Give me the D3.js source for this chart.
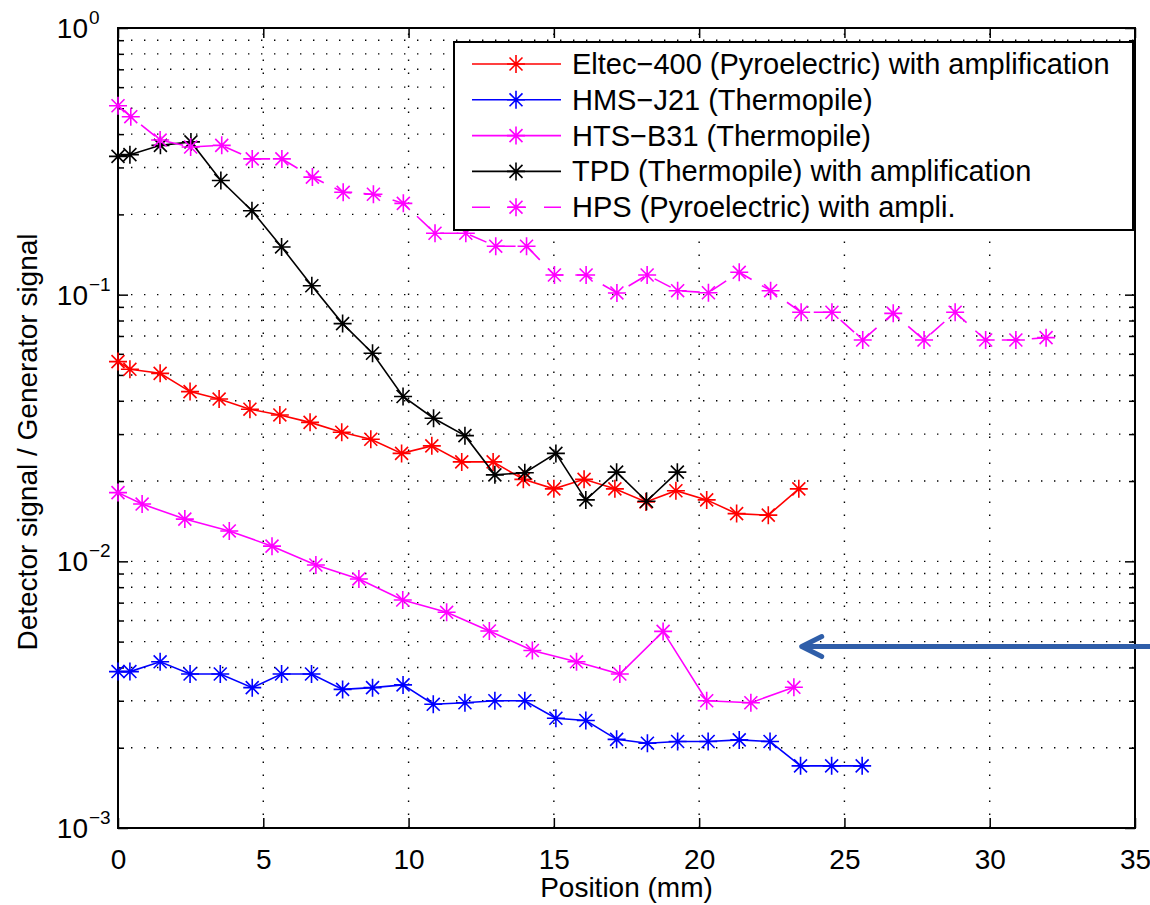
<!DOCTYPE html>
<html>
<head>
<meta charset="utf-8">
<script src="https://cdn.jsdelivr.net/npm/d3@7"></script>
<style>
    body { margin: 0; background: #fff; }
    svg text { font-family: "Liberation Sans", Arial, Helvetica, sans-serif; fill: #000; }
</style>
</head>
<body>
<svg id="chart" width="1150" height="905"></svg>
<script>
/*global d3*/
"use strict";

// axis ticks
var xTicks = [0, 5, 10, 15, 20, 25, 30, 35];
var yDecades = [1e-3, 1e-2, 1e-1, 1];
var yExponents = ['\u22123', '\u22122', '\u22121', '0'];

// Eltec-400 (red)
var eltecX = [0, 0.41, 1.45, 2.48, 3.48, 4.54, 5.57, 6.61, 7.7, 8.7, 9.76, 10.8,
    11.83, 12.91, 13.95, 15.0, 16.04, 17.1, 18.17, 19.2, 20.26, 21.29, 22.38, 23.43];
var eltecY = [0.0561, 0.0525, 0.0507, 0.0433, 0.0406, 0.0372, 0.0354, 0.0332, 0.0305, 0.0287, 0.0254, 0.0271,
    0.0236, 0.0236, 0.0203, 0.0187, 0.0203, 0.0187, 0.0167, 0.0184, 0.0170, 0.0151, 0.0149, 0.0187];

// HMS-J21 (blue)
var hmsX = [0, 0.41, 1.45, 2.48, 3.52, 4.62, 5.63, 6.66, 7.73, 8.76, 9.81, 10.85, 11.94,
    12.97, 14.0, 15.07, 16.1, 17.16, 18.22, 19.26, 20.31, 21.38, 22.44, 23.49, 24.56, 25.61];
var hmsY = [0.00386, 0.00386, 0.00420, 0.00378, 0.00378, 0.00336, 0.00378, 0.00378, 0.00331, 0.00336, 0.00344, 0.00291, 0.00295,
    0.00300, 0.00300, 0.00258, 0.00253, 0.00215, 0.00208, 0.00211, 0.00211, 0.00214, 0.00211, 0.00171, 0.00171, 0.00171];

// HTS-B31 (magenta, solid)
var htsX = [0, 0.83, 2.30, 3.83, 5.30, 6.81, 8.29, 9.80, 11.31, 12.78, 14.26, 15.78, 17.27, 18.76, 20.26, 21.78, 23.26];
var htsY = [0.0181, 0.0164, 0.0144, 0.0130, 0.0114, 0.00969, 0.00859, 0.00716, 0.00644, 0.00548, 0.00463, 0.00420,
    0.00378, 0.00546, 0.00300, 0.00295, 0.00337];

// TPD (black)
var tpdX = [0, 0.41, 1.46, 2.51, 3.54, 4.61, 5.63, 6.67, 7.73, 8.76, 9.81, 10.86, 11.94, 12.97, 14.0, 15.07,
    16.1, 17.16, 18.19, 19.25];
var tpdY = [0.330, 0.335, 0.363, 0.374, 0.268, 0.2065, 0.151, 0.108, 0.0779, 0.0603, 0.0415, 0.0344, 0.0296,
    0.0211, 0.0215, 0.0254, 0.0170, 0.0216, 0.0168, 0.0216];

// HPS (magenta, dashed)
var hpsX = [0, 0.44, 1.45, 2.50, 3.57, 4.62, 5.64, 6.69, 7.75, 8.79, 9.82, 10.91, 11.97, 13.00, 14.06, 15.02,
    16.11, 17.17, 18.21, 19.26, 20.32, 21.38, 22.46, 23.51, 24.57, 25.63, 26.68, 27.74, 28.81, 29.86, 30.90, 31.94];
var hpsY = [0.511, 0.465, 0.380, 0.358, 0.363, 0.323, 0.323, 0.276, 0.242, 0.238, 0.220, 0.170, 0.170, 0.152, 0.152, 0.1185,
    0.1185, 0.1015, 0.1185, 0.1035, 0.1017, 0.1213, 0.1035, 0.0859, 0.0859, 0.0676, 0.0851, 0.0676, 0.0859, 0.0676, 0.0676, 0.0690];

var seriesNames = [
    'Eltec\u2212400 (Pyroelectric) with amplification',
    'HMS\u2212J21 (Thermopile)',
    'HTS\u2212B31 (Thermopile)',
    'TPD (Thermopile) with amplification',
    'HPS (Pyroelectric) with ampli.'
];

// the hand-drawn arrow: tail and tip in data units
var arrowFrom = [35.52, 0.00479];
var arrowTo = [23.53, 0.00479];

var series = [
    {name: seriesNames[0], xs: eltecX, ys: eltecY, color: '#ff0000', dash: null},
    {name: seriesNames[1], xs: hmsX, ys: hmsY, color: '#0000ff', dash: null},
    {name: seriesNames[2], xs: htsX, ys: htsY, color: '#ff00ff', dash: null},
    {name: seriesNames[3], xs: tpdX, ys: tpdY, color: '#000000', dash: null},
    {name: seriesNames[4], xs: hpsX, ys: hpsY, color: '#ff00ff', dash: '18,12'}
];

var svg = d3.select('#chart'),
    plotLeft = 118, plotRight = 1135, plotTop = 28, plotBottom = 828,
    fontSize = 28,
    legendFont = 29,
    markerSize = 9,

    x = d3.scaleLinear().domain([0, 35]).range([plotLeft, plotRight]),
    y = d3.scaleLog().domain([1e-3, 1]).range([plotBottom, plotTop]),

    /**
     * MATLAB style '*' marker: a plus and a cross on top of each other.
     */
    starPath = function (r) {
        var d = r * 0.72;
        return 'M' + (-r) + ',0H' + r + 'M0,' + (-r) + 'V' + r +
            'M' + (-d) + ',' + (-d) + 'L' + d + ',' + d +
            'M' + (-d) + ',' + d + 'L' + d + ',' + (-d);
    },

    minorValues = [];

yDecades.slice(0, -1).forEach(function (dec) {
    var k;
    for (k = 2; k <= 9; k += 1) {
        minorValues.push(k * dec);
    }
});

// dotted grid
var grid = svg.append('g').attr('class', 'grid')
    .attr('stroke', '#000')
    .attr('stroke-width', 1.4)
    .attr('stroke-dasharray', '1.4,11.6');

grid.selectAll('line.v')
    .data(xTicks.slice(1, -1))
    .enter().append('line')
    .attr('x1', function (d) { return x(d); })
    .attr('x2', function (d) { return x(d); })
    .attr('y1', plotBottom)
    .attr('y2', plotTop);

grid.selectAll('line.h')
    .data(minorValues.concat(yDecades.slice(1, -1)))
    .enter().append('line')
    .attr('x1', plotLeft)
    .attr('x2', plotRight)
    .attr('y1', function (d) { return y(d); })
    .attr('y2', function (d) { return y(d); });

// axes, ticks pointing inwards on all four sides
var styleAxis = function (g) {
    g.select('.domain').remove();
    g.selectAll('.tick line').attr('stroke', '#000').attr('stroke-width', 1.5);
    g.selectAll('text').attr('font-size', fontSize).attr('font-family', null);
};

svg.append('g')
    .attr('transform', 'translate(0,' + plotBottom + ')')
    .call(d3.axisBottom(x).tickValues(xTicks).tickSize(-10).tickPadding(21).tickFormat(d3.format('d')))
    .call(styleAxis);

svg.append('g')
    .attr('transform', 'translate(0,' + plotTop + ')')
    .call(d3.axisTop(x).tickValues(xTicks).tickSize(-10).tickFormat(''))
    .call(styleAxis);

svg.append('g')
    .attr('transform', 'translate(' + plotLeft + ',0)')
    .call(d3.axisLeft(y).tickValues(yDecades).tickSize(-10).tickFormat(''))
    .call(styleAxis);

svg.append('g')
    .attr('transform', 'translate(' + plotLeft + ',0)')
    .call(d3.axisLeft(y).tickValues(minorValues).tickSize(-6).tickFormat(''))
    .call(styleAxis);

svg.append('g')
    .attr('transform', 'translate(' + plotRight + ',0)')
    .call(d3.axisRight(y).tickValues(yDecades).tickSize(-10).tickFormat(''))
    .call(styleAxis);

svg.append('g')
    .attr('transform', 'translate(' + plotRight + ',0)')
    .call(d3.axisRight(y).tickValues(minorValues).tickSize(-6).tickFormat(''))
    .call(styleAxis);

// y tick labels as 10 with a superscript exponent
var yLabels = svg.append('g').selectAll('g')
    .data(yDecades)
    .enter().append('g')
    .attr('transform', function (d) { return 'translate(88,' + y(d) + ')'; });

yLabels.append('text')
    .attr('text-anchor', 'end')
    .attr('y', 10)
    .attr('font-size', fontSize)
    .text('10');

yLabels.append('text')
    .attr('x', 1)
    .attr('y', -4)
    .attr('font-size', 19)
    .text(function (d, i) { return yExponents[i]; });

// box
svg.append('rect')
    .attr('x', plotLeft)
    .attr('y', plotTop)
    .attr('width', plotRight - plotLeft)
    .attr('height', plotBottom - plotTop)
    .attr('fill', 'none')
    .attr('stroke', '#000')
    .attr('stroke-width', 2);

// axis titles
svg.append('text')
    .attr('x', (plotLeft + plotRight) / 2)
    .attr('y', 897)
    .attr('text-anchor', 'middle')
    .attr('font-size', fontSize)
    .text('Position (mm)');

svg.append('text')
    .attr('transform', 'translate(37,442) rotate(-90)')
    .attr('text-anchor', 'middle')
    .attr('font-size', fontSize)
    .text('Detector signal / Generator signal');

// series
var line = d3.line()
    .x(function (p) { return x(p[0]); })
    .y(function (p) { return y(p[1]); });

series.forEach(function (s) {
    var pts = s.xs.map(function (v, i) { return [v, s.ys[i]]; }),
        g = svg.append('g');

    g.append('path')
        .attr('d', line(pts))
        .attr('fill', 'none')
        .attr('stroke', s.color)
        .attr('stroke-width', 1.6)
        .attr('stroke-dasharray', s.dash);

    g.selectAll('path.marker')
        .data(pts)
        .enter().append('path')
        .attr('class', 'marker')
        .attr('transform', function (p) { return 'translate(' + x(p[0]) + ',' + y(p[1]) + ')'; })
        .attr('d', starPath(markerSize))
        .attr('fill', 'none')
        .attr('stroke', s.color)
        .attr('stroke-width', 1.6);
});

// legend
var legend = svg.append('g').attr('transform', 'translate(454,42)');

legend.append('rect')
    .attr('width', 679)
    .attr('height', 188)
    .attr('fill', '#fff')
    .attr('stroke', '#000')
    .attr('stroke-width', 2);

var rows = legend.selectAll('g.row')
    .data(series)
    .enter().append('g')
    .attr('class', 'row')
    .attr('transform', function (d, i) { return 'translate(0,' + (22 + i * 35.8) + ')'; });

rows.append('line')
    .attr('x1', 18)
    .attr('x2', 107)
    .attr('stroke', function (d) { return d.color; })
    .attr('stroke-width', 1.6)
    .attr('stroke-dasharray', function (d) { return d.dash ? '18,18' : null; });

rows.append('path')
    .attr('transform', 'translate(62,0)')
    .attr('d', starPath(markerSize))
    .attr('fill', 'none')
    .attr('stroke', function (d) { return d.color; })
    .attr('stroke-width', 1.6);

rows.append('text')
    .attr('x', 118)
    .attr('y', 10)
    .attr('font-size', legendFont)
    .text(function (d) { return d.name; });

// blue arrow pointing at the HTS-B31 bump
var ax0 = x(arrowFrom[0]), ay = y(arrowTo[1]), ax1 = x(arrowTo[0]);

svg.append('line')
    .attr('x1', ax0)
    .attr('x2', ax1 + 2)
    .attr('y1', ay)
    .attr('y2', ay)
    .attr('stroke', '#2f5ea9')
    .attr('stroke-width', 5);

svg.append('path')
    .attr('d', 'M' + (ax1 + 20) + ',' + (ay - 10) + 'L' + ax1 + ',' + ay + 'L' + (ax1 + 20) + ',' + (ay + 10))
    .attr('fill', 'none')
    .attr('stroke', '#2f5ea9')
    .attr('stroke-width', 5)
    .attr('stroke-linecap', 'round')
    .attr('stroke-linejoin', 'round');
</script>
</body>
</html>
